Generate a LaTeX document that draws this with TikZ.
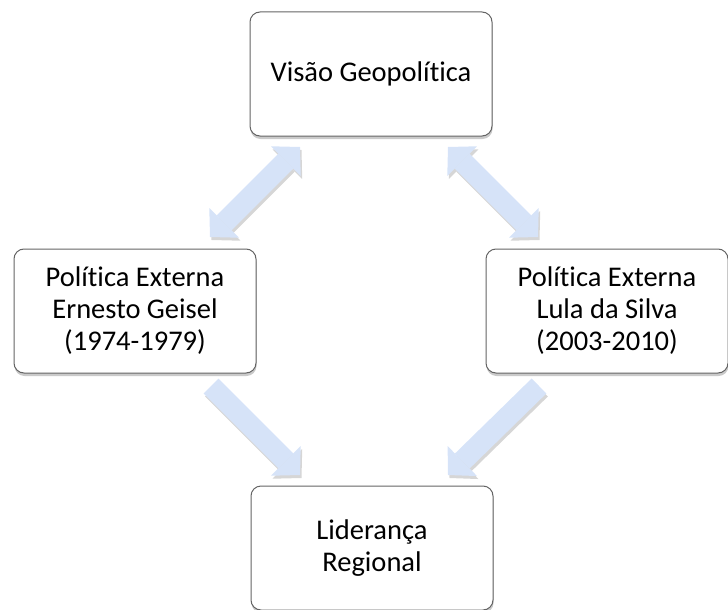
\documentclass[tikz,border=0pt]{standalone}
\usepackage{fontspec}
\setmainfont[Ligatures=NoCommon]{Carlito}
\usetikzlibrary{arrows.meta, shadows}
\definecolor{arrowblue}{RGB}{214,227,248}
\definecolor{boxline}{RGB}{100,100,100}
\tikzstyle{box}=[draw=boxline, line width=1pt, fill=white, rounded corners=10pt,
  minimum width=242pt, minimum height=124pt, align=center,
  font=\fontsize{28.5}{32}\selectfont,
  drop shadow={shadow xshift=0.5pt, shadow yshift=-3pt, opacity=0.35, fill=black!60}]
\tikzstyle{flow}=[line width=21pt, draw=arrowblue, -{Triangle[length=20pt, width=42pt, line width=0pt]}]
\tikzstyle{twoway}=[line width=21pt, draw=arrowblue,
  {Triangle[length=20pt, width=42pt, line width=0pt]}-{Triangle[length=20pt, width=42pt, line width=0pt]}]
\tikzstyle{ghost}=[draw=black!16, transform canvas={shift={(1.5pt,-3pt)}}]

\begin{document}
\begin{tikzpicture}[x=1pt, y=-1pt]
  \useasboundingbox (0,0) rectangle (728,610);
  \node[box] (geo) at (371,74) {Visão Geopolítica};
  \node[box] (geisel) at (135,311) {Política Externa\\Ernesto Geisel\\(1974-1979)};
  \node[box] (lula) at (607,311) {Política Externa\\Lula da Silva\\(2003-2010)};
  \node[box] (lider) at (372,548) {Liderança\\Regional};
  % arrow ends
  \coordinate (g1) at (300,147);
  \coordinate (g2) at (210,237);
  \coordinate (g3) at (448,147);
  \coordinate (g4) at (538,237);
  \coordinate (r1) at (211,386);
  \coordinate (r2) at (300,475);
  \coordinate (r3) at (539,386);
  \coordinate (r4) at (448,475);
  \path[twoway, ghost] (g1) -- (g2);
  \path[twoway, ghost] (g3) -- (g4);
  \path[flow, ghost] (r1) -- (r2);
  \path[flow, ghost] (r3) -- (r4);
  \path[twoway] (g1) -- (g2);
  \path[twoway] (g3) -- (g4);
  \path[flow] (r1) -- (r2);
  \path[flow] (r3) -- (r4);
\end{tikzpicture}
\end{document}
